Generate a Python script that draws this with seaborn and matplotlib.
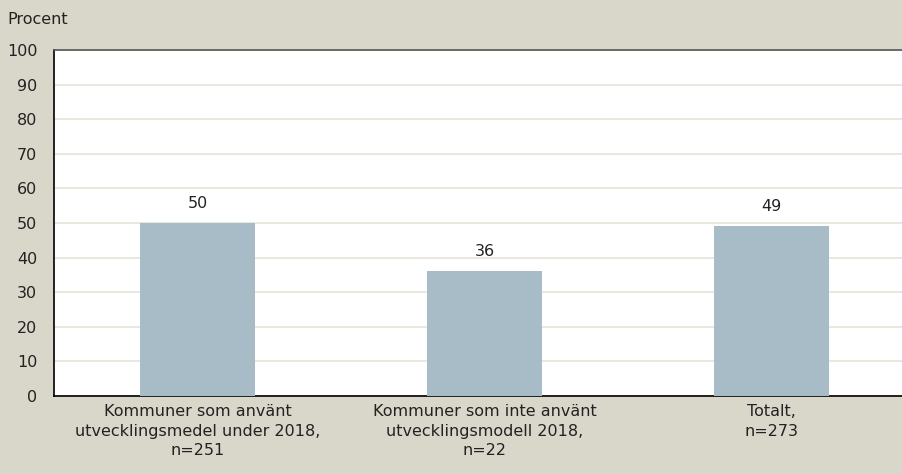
import numpy as np
import pandas as pd
import matplotlib.pyplot as plt
import seaborn as sns

categories = [
    "Kommuner som använt\nutvecklingsmedel under 2018,\nn=251",
    "Kommuner som inte använt\nutvecklingsmodell 2018,\nn=22",
    "Totalt,\nn=273",
]
values = [50, 36, 49]
yticks = [0, 10, 20, 30, 40, 50, 60, 70, 80, 90, 100]

bg = "#D9D6CA"
bar_color = "#A7BCC7"
grid_color = "#E4E1D5"
txt = "#222222"

sns.set_theme(style="white")
plt.rcParams["font.family"] = ["DejaVu Sans"]

df = pd.DataFrame({"cat": categories, "val": values})

fig = plt.figure(figsize=(9.02, 4.74), dpi=100, facecolor=bg)
ax = fig.add_axes([54 / 902, 1 - 396 / 474, 861 / 902, 346 / 474])
ax.set_facecolor("white")

sns.barplot(data=df, x="cat", y="val", color=bar_color, width=0.4,
            saturation=1, linewidth=0, ax=ax, zorder=3)

ax.set_xlim(-0.5, 2.5)
ax.set_ylim(0, 100)
ax.set_yticks(yticks)
ax.yaxis.grid(True, color=grid_color, linewidth=1.1, zorder=0)
ax.set_axisbelow(True)

for i, v in enumerate(values):
    ax.annotate(str(v), (i, v), xytext=(0, 9), textcoords="offset points",
                ha="center", va="bottom", fontsize=11.5, color=txt)

ax.set_xlabel("")
ax.set_ylabel("")
ax.tick_params(axis="y", length=0, labelsize=11.5, labelcolor=txt, pad=12)
ax.tick_params(axis="x", length=0, labelsize=11.5, labelcolor=txt, pad=6)
ax.set_xticks([0.5, 1.5], minor=True)
ax.tick_params(axis="x", which="minor", direction="in", length=5,
               width=0.8, color="black")
for lbl in ax.get_xticklabels():
    lbl.set_linespacing(1.35)

ax.spines["left"].set_color("black")
ax.spines["bottom"].set_color("black")
ax.spines["top"].set_color("#555555")
ax.spines["right"].set_visible(False)
for s in ["left", "bottom", "top"]:
    ax.spines[s].set_linewidth(1.2)

fig.text(7 / 902, 1 - 20 / 474, "Procent", fontsize=11.5, color=txt,
         ha="left", va="center")

fig.savefig("out.png", dpi=100, facecolor=bg)
